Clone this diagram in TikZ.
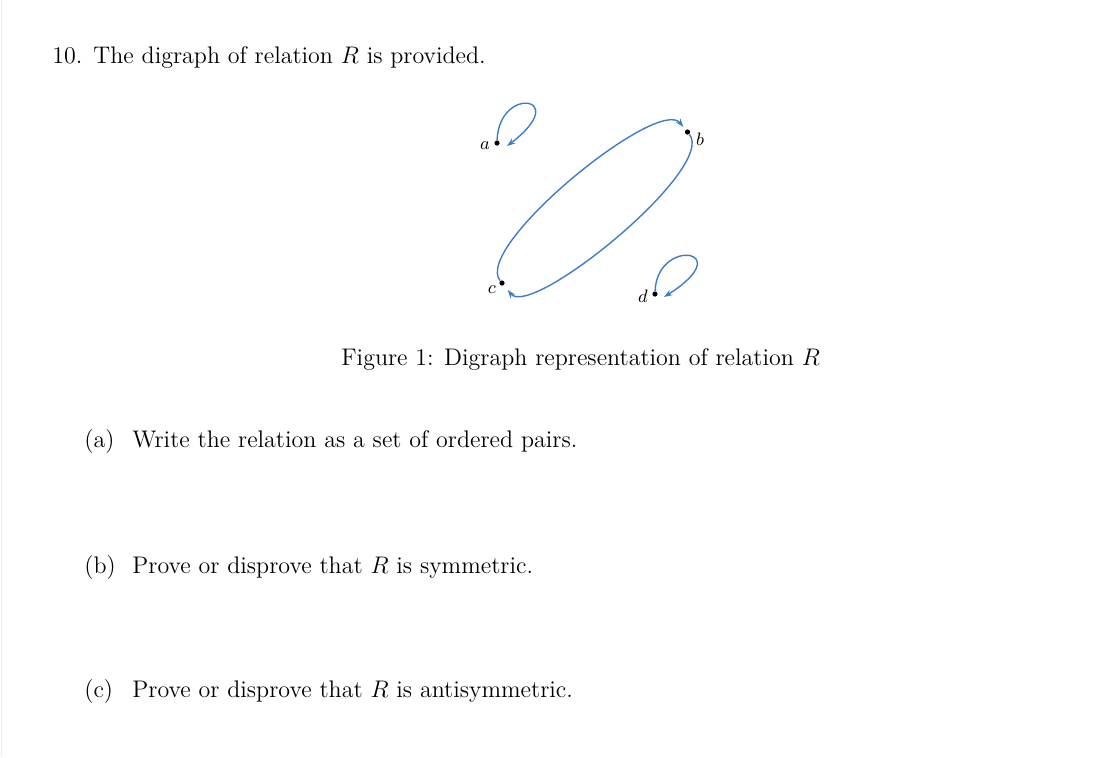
\documentclass[tikz,border=0pt]{standalone}
\usepackage{amsmath,amssymb}
\usepackage{tikz}
\usetikzlibrary{arrows.meta}

\definecolor{edgeblue}{RGB}{62,125,198}

\begin{document}
\begin{tikzpicture}[x=0.5pt, y=0.5pt,
  txt/.style={anchor=base west, inner sep=0pt, font=\fontsize{12}{14}\selectfont},
  vtx/.style={circle, fill=black, inner sep=0pt, minimum size=2.6pt},
  lbl/.style={inner sep=0pt, font=\fontsize{9}{10}\selectfont},
  arc/.style={draw=edgeblue, line width=0.7pt, -{Stealth[length=4.2pt, width=3pt]}}]
\useasboundingbox (0,0) rectangle (1099,-757);
\draw[black!8, line width=0.8pt] (1.5,0) -- (1.5,-757);
\node[txt] (q) at (52,-63) {10.\hspace{5.5pt}The digraph of relation $R$ is provided.};
\node[vtx] (a) at (497,-143) {};
\node[vtx] (b) at (687.5,-132) {};
\node[vtx] (c) at (502,-283) {};
\node[vtx] (d) at (655,-294) {};
\node[lbl] (la) at (485,-146) {$a$};
\node[lbl] (lb) at (700,-139) {$b$};
\node[lbl] (lc) at (492,-290) {$c$};
\node[lbl] (ld) at (643,-296) {$d$};
\coordinate (aend) at (507,-146);
\coordinate (dend) at (664,-297);
\draw[arc] (a) .. controls +(2,58) and +(66,50) .. (aend);
\draw[arc] (d) .. controls +(2,57) and +(76,48) .. (dend);
\draw[arc, shorten >=1.8pt] (c) .. controls +(-29.4,36.3) and +(-29.4,36.3) .. (b);
\draw[arc, shorten >=3pt] (b) .. controls +(29.4,-36.3) and +(29.4,-36.3) .. (c);
\node[txt] (cap) at (341,-365) {Figure 1: Digraph representation of relation $R$};
\node[txt] (pa) at (84,-447) {\makebox[24pt][l]{(a)}Write the relation as a set of ordered pairs.};
\node[txt] (pb) at (84,-573) {\makebox[24pt][l]{(b)}Prove or disprove that $R$ is symmetric.};
\node[txt] (pc) at (84,-697) {\makebox[24pt][l]{(c)}Prove or disprove that $R$ is antisymmetric.};
\end{tikzpicture}
\end{document}
